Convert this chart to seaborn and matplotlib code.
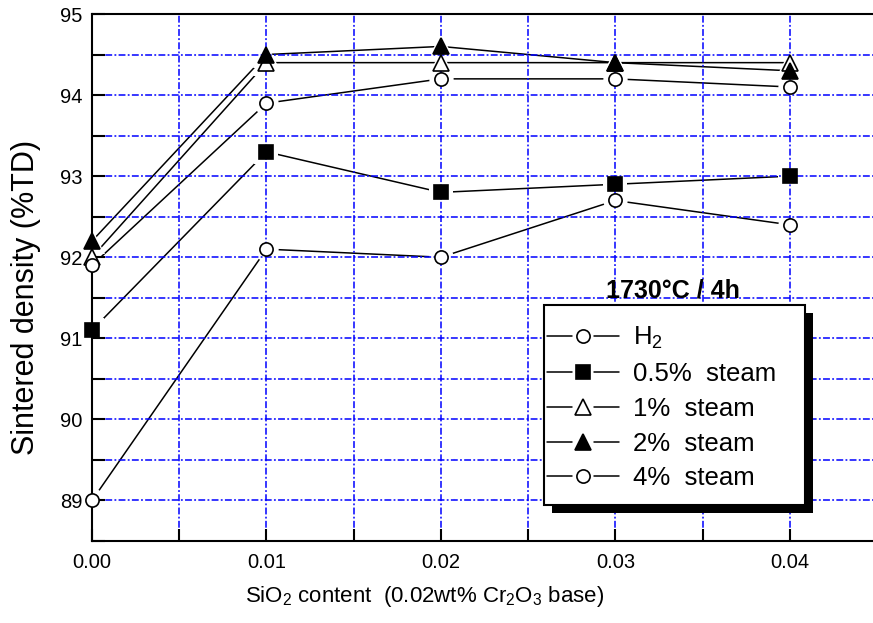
import matplotlib
matplotlib.use("Agg")
import matplotlib.pyplot as plt
import seaborn as sns
import pandas as pd
from matplotlib.lines import Line2D
from matplotlib.patches import Rectangle
from matplotlib.legend_handler import HandlerBase
from matplotlib.ticker import MultipleLocator

# ---------------- data ----------------
sio2 = [0.00, 0.01, 0.02, 0.03, 0.04]
h2 = [89.0, 92.1, 92.0, 92.7, 92.4]
steam_05 = [91.1, 93.3, 92.8, 92.9, 93.0]
steam_1 = [92.0, 94.4, 94.4, 94.4, 94.4]
steam_2 = [92.2, 94.5, 94.6, 94.4, 94.3]
steam_4 = [91.9, 93.9, 94.2, 94.2, 94.1]
series_labels = ["H$_2$", "0.5%  steam", "1%  steam", "2%  steam", "4%  steam"]
x_tick_values = [0.00, 0.01, 0.02, 0.03, 0.04]
x_tick_labels = ["0.00", "0.01", "0.02", "0.03", "0.04"]
y_tick_values = [89, 90, 91, 92, 93, 94, 95]
title_text = "1730°C / 4h"
x_label = "SiO$_2$ content  (0.02wt% Cr$_2$O$_3$ base)"
y_label = "Sintered density (%TD)"

values = [h2, steam_05, steam_1, steam_2, steam_4]
frames = []
for lab, vals in zip(series_labels, values):
    frames.append(pd.DataFrame({"x": sio2, "y": vals, "series": lab}))
df = pd.concat(frames, ignore_index=True)

# marker style per series: (marker, filled, size)
styles = {
    series_labels[0]: ("o", False, 9.5),
    series_labels[1]: ("s", True, 9.5),
    series_labels[2]: ("^", False, 11),
    series_labels[3]: ("^", True, 11),
    series_labels[4]: ("o", False, 9.5),
}

sns.set_theme(style="white")
plt.rcParams["font.family"] = ["Liberation Sans", "DejaVu Sans"]
plt.rcParams["mathtext.default"] = "regular"

fig = plt.figure(figsize=(8.73, 6.23), dpi=100)
ax = fig.add_axes([92 / 873, 1 - 541 / 623, 785 / 873, 527 / 623])

# connecting lines
sns.lineplot(data=df, x="x", y="y", units="series", estimator=None,
             color="black", lw=1.1, zorder=1, legend=False, ax=ax)

gap = 8
for lab in series_labels:
    sub = df[df["series"] == lab]
    m, filled, ms = styles[lab]
    # white halo -> gap between line and marker
    sns.lineplot(data=sub, x="x", y="y", linestyle="none", marker=m,
                 markersize=ms + gap, markerfacecolor="white",
                 markeredgecolor="white", markeredgewidth=0,
                 color="white", zorder=1.2, legend=False, clip_on=False, ax=ax)
    sns.lineplot(data=sub, x="x", y="y", linestyle="none", marker=m,
                 markersize=ms, markerfacecolor="black" if filled else "white",
                 markeredgecolor="black", markeredgewidth=1.2,
                 color="black", zorder=3, legend=False, clip_on=False, ax=ax)

ax.set_xlim(0, 0.045)
ax.set_ylim(88.5, 95)
ax.set_xticks(x_tick_values)
ax.set_xticklabels(x_tick_labels)
ax.set_yticks(y_tick_values)
ax.xaxis.set_minor_locator(MultipleLocator(0.005))
ax.yaxis.set_minor_locator(MultipleLocator(0.5))

ax.set_axisbelow("line")
ax.grid(True, which="both", color="#0000ff", lw=1.1,
        linestyle=(0, (4.5, 1.5, 1.2, 1.5)))

for side in ["left", "bottom", "top"]:
    ax.spines[side].set_visible(True)
    ax.spines[side].set_color("black")
    ax.spines[side].set_linewidth(1.5)
ax.spines["right"].set_visible(False)

ax.tick_params(which="both", direction="in", length=9, width=1.5,
               color="black", left=True, bottom=True, top=False, right=False)
ax.tick_params(axis="x", which="major", labelsize=14.5, labelcolor="black", pad=9)
ax.tick_params(axis="y", which="major", labelsize=14.5, labelcolor="black", pad=7)

ax.set_xlabel(x_label, fontsize=16, color="black")
ax.set_ylabel(y_label, fontsize=22, color="black")
ax.xaxis.set_label_coords(0.424, -0.082)
ax.yaxis.set_label_coords(-0.065, 0.463)


# legend: line - marker - line handles
class LineMarkerLine(HandlerBase):
    def create_artists(self, legend, orig_handle, xdescent, ydescent,
                       width, height, fontsize, trans):
        y = (height - ydescent) / 2
        x0 = -xdescent
        l1 = Line2D([x0, x0 + 0.35 * width], [y, y], color="black", lw=1.1)
        l2 = Line2D([x0 + 0.65 * width, x0 + width], [y, y], color="black", lw=1.1)
        mk = Line2D([x0 + 0.5 * width], [y], ls="none",
                    marker=orig_handle.get_marker(),
                    markersize=orig_handle.get_markersize(),
                    markerfacecolor=orig_handle.get_markerfacecolor(),
                    markeredgecolor="black", markeredgewidth=1.2)
        for a in (l1, l2, mk):
            a.set_transform(trans)
        return [l1, l2, mk]


handles = []
for lab in series_labels:
    m, filled, ms = styles[lab]
    handles.append(Line2D([], [], ls="none", marker=m, markersize=ms,
                          markerfacecolor="black" if filled else "white",
                          markeredgecolor="black"))

# legend frame with solid drop shadow
fig.add_artist(Rectangle(((544 + 8) / 873, 1 - 513 / 623), 261 / 873, 200 / 623,
                         transform=fig.transFigure, facecolor="black",
                         edgecolor="black", lw=0, zorder=8.9))
fig.add_artist(Rectangle((544 / 873, 1 - 505 / 623), 261 / 873, 200 / 623,
                         transform=fig.transFigure, facecolor="white",
                         edgecolor="black", lw=1.5, zorder=9))

fs_leg = 18.5
leg = fig.legend(handles, series_labels,
                 handler_map={Line2D: LineMarkerLine()},
                 loc="upper left", bbox_to_anchor=(547 / 873, 1 - 325 / 623),
                 bbox_transform=fig.transFigure, borderaxespad=0, borderpad=0,
                 fontsize=fs_leg, handlelength=72 / (fs_leg * 100 / 72),
                 handletextpad=14 / (fs_leg * 100 / 72),
                 labelspacing=0.42, frameon=False)
leg.set_zorder(10)
for t in leg.get_texts():
    t.set_color("black")

fig.text(673 / 873, 1 - 297 / 623, title_text, fontsize=18, fontweight="bold",
         ha="center", va="baseline", color="black", zorder=11)

fig.savefig("out.png", dpi=100)
